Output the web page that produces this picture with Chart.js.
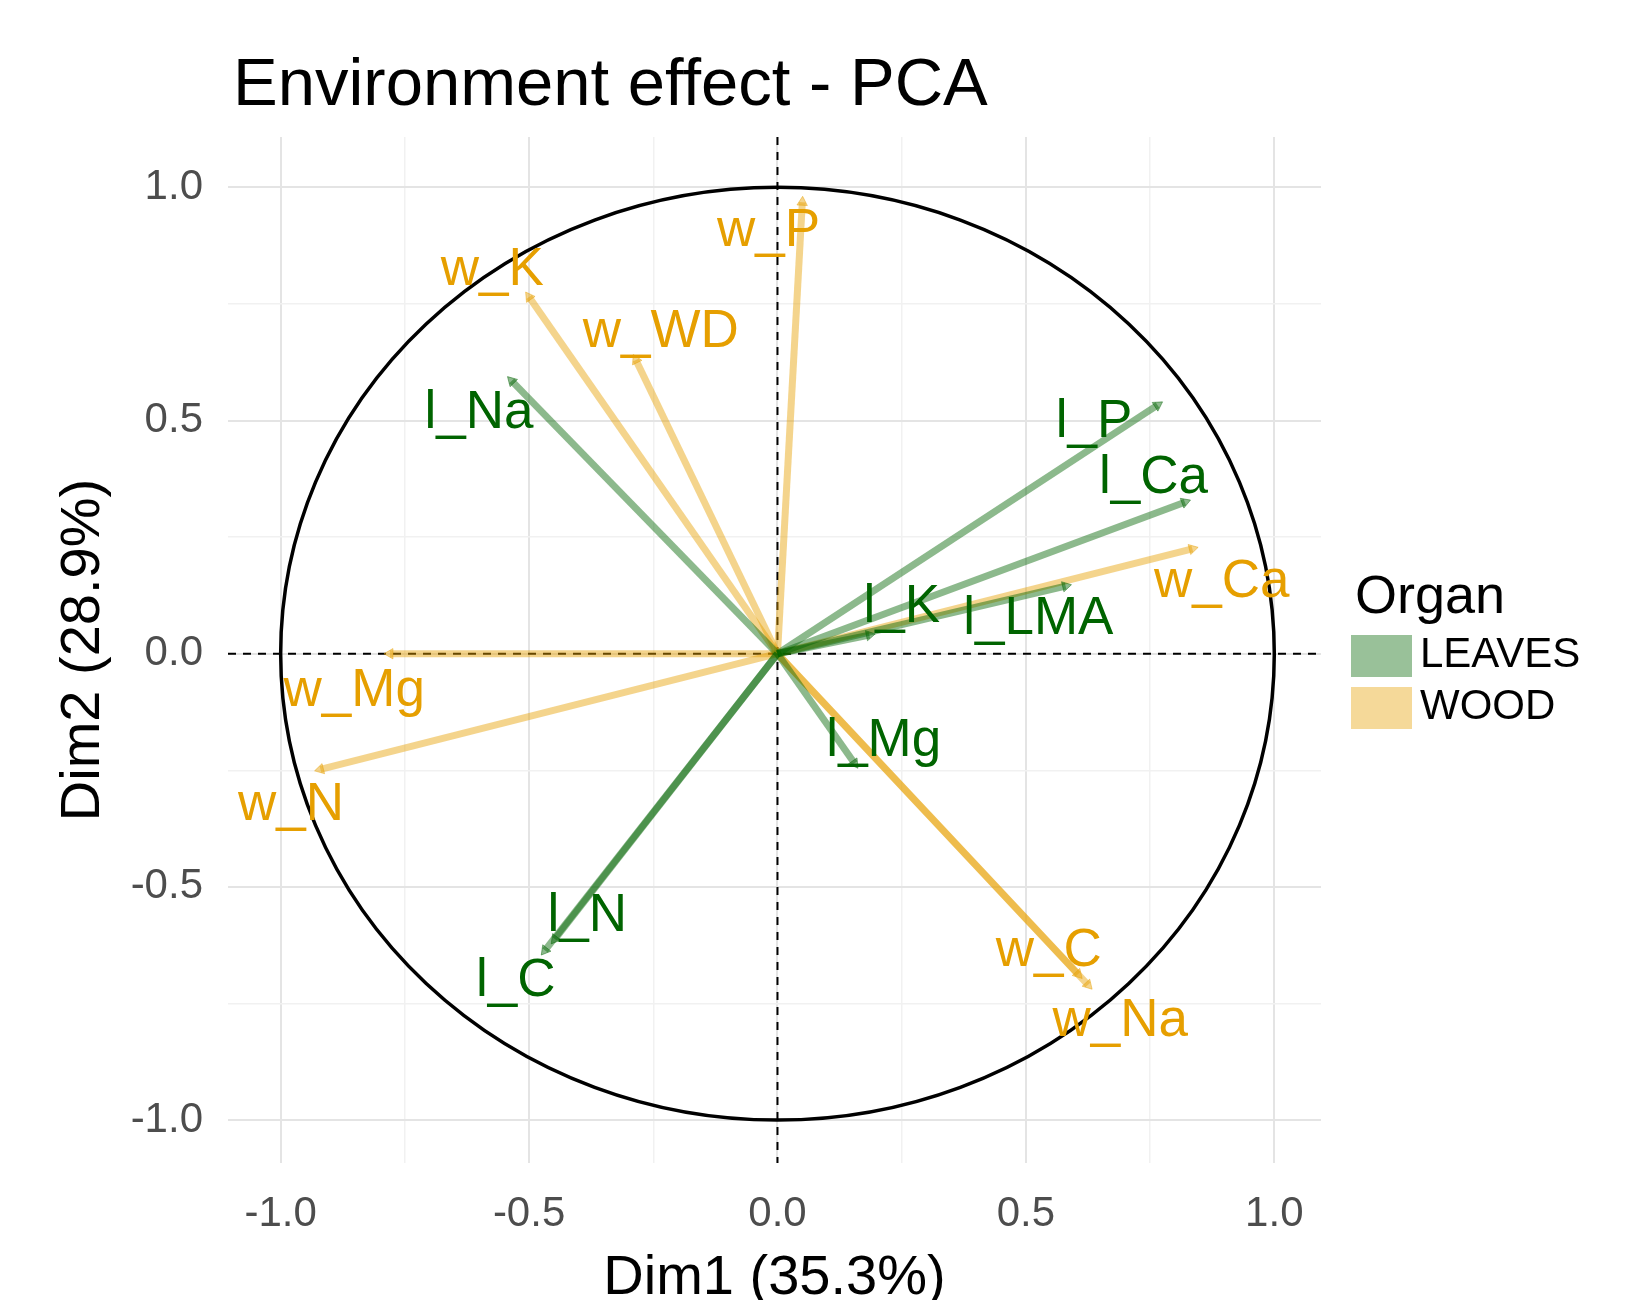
<!DOCTYPE html>
<html>
<head>
<meta charset="utf-8">
<title>Environment effect - PCA</title>
<script src="https://cdn.jsdelivr.net/npm/chart.js@4"></script>
<style>
  body { margin: 0; background: #fff; }
</style>
</head>
<body>
<canvas id="chart" width="1644" height="1300"></canvas>
<script>
// variable coordinates on the first two dimensions
const variables = ["l_C", "l_Ca", "l_K", "l_LMA", "l_Mg", "l_N", "l_Na", "l_P",
                   "w_C", "w_Ca", "w_K", "w_Mg", "w_N", "w_Na", "w_P", "w_WD"];
const organ = ["LEAVES", "LEAVES", "LEAVES", "LEAVES", "LEAVES", "LEAVES", "LEAVES", "LEAVES",
               "WOOD", "WOOD", "WOOD", "WOOD", "WOOD", "WOOD", "WOOD", "WOOD"];
const dim1 = [-0.468, 0.82, 0.185, 0.58, 0.155, -0.448, -0.535, 0.765,
              0.605, 0.835, -0.50, -0.78, -0.92, 0.625, 0.05, -0.285];
const dim2 = [-0.636, 0.325, 0.04, 0.145, -0.235, -0.612, 0.585, 0.533,
              -0.687, 0.225, 0.765, 0.0, -0.248, -0.71, 0.968, 0.63];
// where the repelled text labels sit (data units)
const labelX = [-0.527, 0.757, 0.250, 0.525, 0.214, -0.383, -0.601, 0.637,
                0.546, 0.894, -0.574, -0.852, -0.979, 0.690, -0.018, -0.235];
const labelY = [-0.703, 0.377, 0.099, 0.074, -0.189, -0.564, 0.516, 0.496,
                -0.638, 0.152, 0.822, -0.081, -0.326, -0.788, 0.905, 0.688];

const organNames = ["LEAVES", "WOOD"];
const majorTicks = [-1.0, -0.5, 0.0, 0.5, 1.0];
const minorTicks = [-0.75, -0.25, 0.25, 0.75];
const xTitle = "Dim1 (35.3%)";
const yTitle = "Dim2 (28.9%)";
const chartTitle = "Environment effect - PCA";

const FONT = "'Liberation Sans', Arial, sans-serif";
const organRgb = { LEAVES: "0, 100, 0", WOOD: "230, 159, 0" };
const textColor = { LEAVES: "#006400", WOOD: "#E69F00" };

function arrowAngle(ctx) {
  if (ctx.dataIndex === 0) return 0;
  const chart = ctx.chart;
  const xs = chart.scales.x, ys = chart.scales.y;
  const p = ctx.raw;
  const dx = xs.getPixelForValue(p.x) - xs.getPixelForValue(0);
  const dy = ys.getPixelForValue(p.y) - ys.getPixelForValue(0);
  return Math.atan2(dx, -dy) * 180 / Math.PI;
}

const datasets = variables.map((name, i) => {
  const c = "rgba(" + organRgb[organ[i]] + ", 0.45)";
  return {
    label: name,
    data: [{ x: 0, y: 0 }, { x: dim1[i], y: dim2[i] }],
    showLine: true,
    borderColor: c,
    backgroundColor: c,
    borderWidth: 7,
    pointStyle: "triangle",
    pointRadius: [0, 6],
    pointHoverRadius: [0, 6],
    pointBorderWidth: 1,
    pointRotation: arrowAngle
  };
});

function setTicks(scale) {
  scale.ticks = majorTicks.concat(minorTicks).sort((a, b) => a - b).map(v => ({ value: v }));
}
function gridColor(ctx) {
  return majorTicks.includes(ctx.tick.value) ? "#e4e4e4" : "#f1f1f1";
}
function gridWidth(ctx) {
  return majorTicks.includes(ctx.tick.value) ? 2 : 1.5;
}
function tickLabel(v) {
  return majorTicks.includes(v) ? v.toFixed(1) : "";
}

const decorations = {
  id: "decorations",
  beforeDatasetsDraw(chart) {
    const { ctx, chartArea: a, scales: { x, y } } = chart;
    const cx = x.getPixelForValue(0), cy = y.getPixelForValue(0);
    ctx.save();
    // correlation circle
    ctx.strokeStyle = "#000";
    ctx.lineWidth = 3.5;
    ctx.beginPath();
    ctx.ellipse(cx, cy, x.getPixelForValue(1) - cx, cy - y.getPixelForValue(1), 0, 0, Math.PI * 2);
    ctx.stroke();
    // dashed zero lines
    ctx.lineWidth = 2;
    ctx.setLineDash([8, 7]);
    ctx.beginPath();
    ctx.moveTo(a.left, cy); ctx.lineTo(a.right, cy);
    ctx.moveTo(cx, a.top); ctx.lineTo(cx, a.bottom);
    ctx.stroke();
    ctx.restore();
  },
  afterDatasetsDraw(chart) {
    const { ctx, scales: { x, y } } = chart;
    ctx.save();
    ctx.font = "53px " + FONT;
    ctx.textAlign = "center";
    ctx.textBaseline = "middle";
    variables.forEach((name, i) => {
      ctx.fillStyle = textColor[organ[i]];
      ctx.fillText(name, x.getPixelForValue(labelX[i]), y.getPixelForValue(labelY[i]));
    });
    ctx.restore();
  },
  afterDraw(chart) {
    const ctx = chart.ctx;
    ctx.save();
    ctx.fillStyle = "#000";
    ctx.textBaseline = "alphabetic";
    ctx.textAlign = "left";
    ctx.font = "67px " + FONT;
    ctx.fillText(chartTitle, 233, 105);

    // legend
    ctx.font = "54px " + FONT;
    ctx.fillText("Organ", 1355, 613);
    ctx.font = "42px " + FONT;
    organNames.forEach((o, k) => {
      const top = 635 + k * 52;
      ctx.fillStyle = "rgba(" + organRgb[o] + ", 0.4)";
      ctx.fillRect(1351, top, 61, 42);
      ctx.fillStyle = "#000";
      ctx.fillText(o, 1420, top + 32);
    });
    ctx.restore();
  }
};

new Chart(document.getElementById("chart"), {
  type: "scatter",
  data: { datasets: datasets },
  options: {
    responsive: false,
    animation: false,
    events: [],
    layout: { padding: { top: 137, right: 323, left: 0, bottom: 0 } },
    plugins: {
      legend: { display: false },
      tooltip: { enabled: false }
    },
    scales: {
      x: {
        type: "linear",
        min: -1.106,
        max: 1.094,
        afterBuildTicks: setTicks,
        afterFit(scale) { scale.height = 137; },
        border: { display: false },
        grid: { color: gridColor, lineWidth: gridWidth, drawTicks: false },
        ticks: {
          callback: tickLabel,
          autoSkip: false,
          maxRotation: 0,
          padding: 26,
          color: "#4d4d4d",
          font: { family: FONT, size: 42 }
        },
        title: {
          display: true,
          text: xTitle,
          color: "#000",
          font: { family: FONT, size: 56, lineHeight: 1 },
          padding: { top: 0, bottom: -7 }
        }
      },
      y: {
        type: "linear",
        min: -1.092,
        max: 1.108,
        afterBuildTicks: setTicks,
        afterFit(scale) { scale.width = 228; },
        border: { display: false },
        grid: { color: gridColor, lineWidth: gridWidth, drawTicks: false },
        ticks: {
          callback: tickLabel,
          autoSkip: false,
          padding: 25,
          color: "#4d4d4d",
          font: { family: FONT, size: 42 }
        },
        title: {
          display: true,
          text: yTitle,
          color: "#000",
          font: { family: FONT, size: 56, lineHeight: 1 },
          padding: { top: 56, bottom: 0 }
        }
      }
    }
  },
  plugins: [decorations]
});
</script>
</body>
</html>
